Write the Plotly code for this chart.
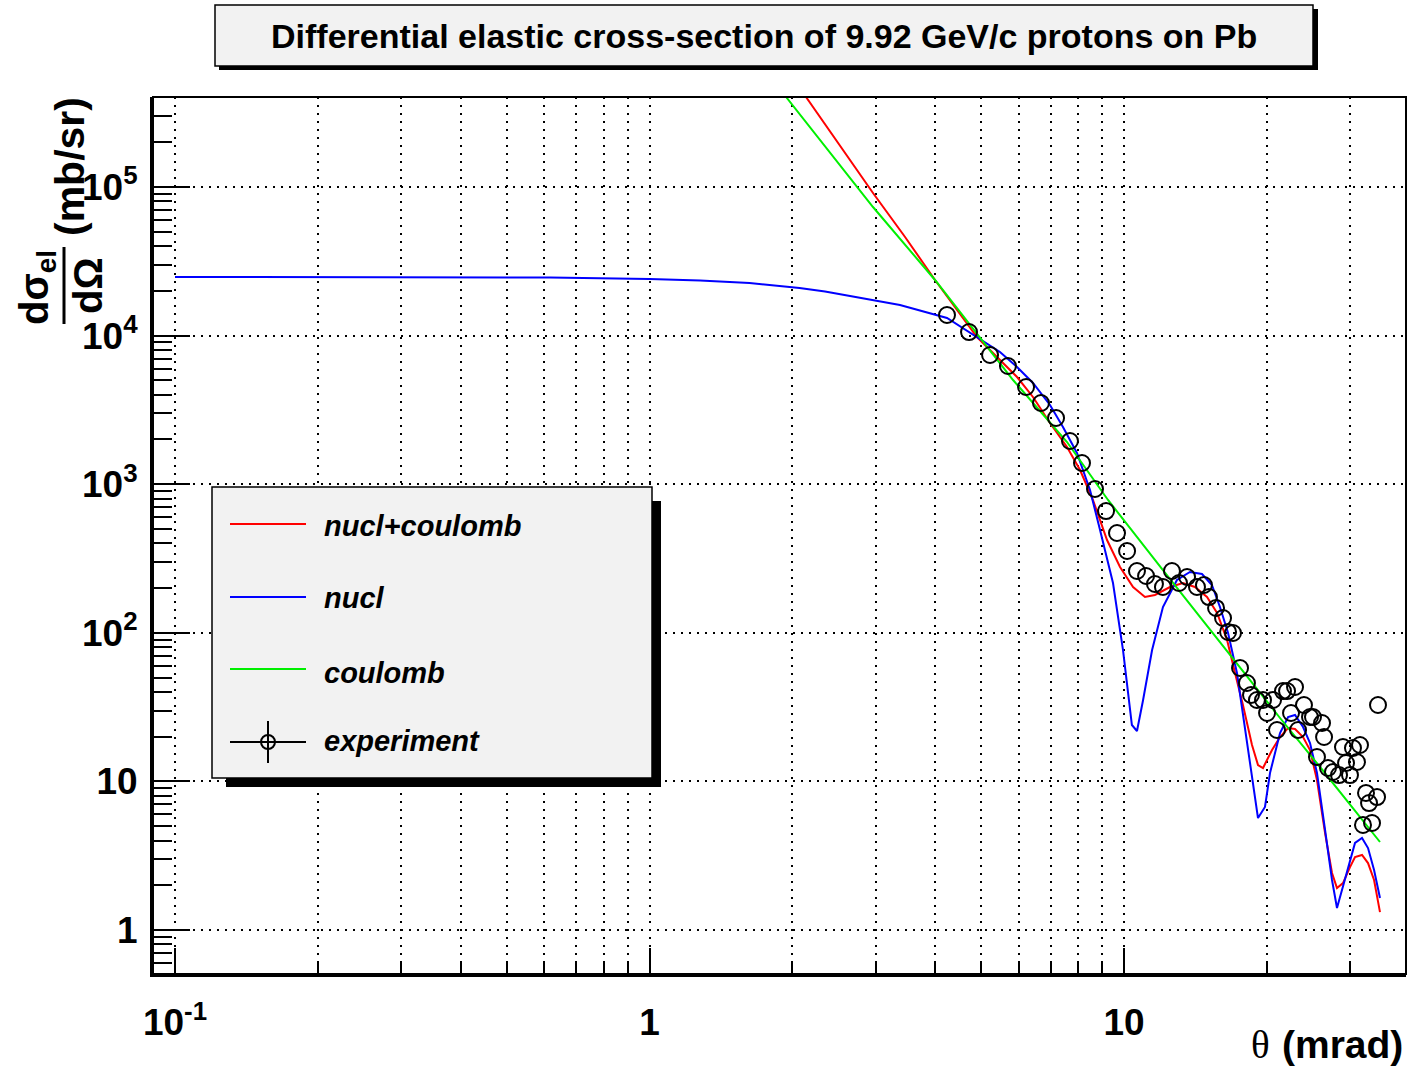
import plotly.graph_objects as go

# ---------------- data ----------------
theta_exp = [4.236, 4.714, 5.220, 5.694, 6.217, 6.684, 7.191, 7.694, 8.156, 8.687,
             9.165, 9.666, 10.15, 10.65, 11.13, 11.62, 12.08, 12.62, 13.06, 13.58,
             14.25, 14.74, 15.10, 15.63, 16.17, 16.57, 16.97, 17.56, 18.16, 18.52,
             19.06, 19.63, 20.02, 20.61, 21.01, 21.63, 22.06, 22.49, 22.93, 23.27,
             23.95, 24.66, 25.02, 25.51, 26.14, 26.40, 26.91, 27.57, 28.39, 28.94,
             29.37, 29.94, 30.38, 30.97, 31.43, 31.89, 32.36, 32.84, 33.32, 34.14, 34.30]
sigma_exp = [13760, 10570, 7404, 6243, 4510, 3519, 2789, 1953, 1389, 928.5,
             660, 469.5, 355.2, 260.6, 241.1, 213.0, 203.3, 260.6, 216.3, 237.4,
             203.3, 209.7, 174.1, 146.9, 125.8, 101.3, 99.7, 57.96, 45.94, 38.14,
             35.30, 35.30, 28.86, 35.30, 22.18, 40.57, 40.57, 28.86, 43.17, 22.18,
             32.67, 27.13, 27.13, 14.59, 24.72, 19.90, 12.31, 11.57, 11.04, 17.04,
             13.30, 11.04, 16.78, 13.51, 17.58, 5.09, 8.36, 7.15, 5.25, 7.85, 32.67]

theta_nucl = [0.1, 0.2979, 0.6170, 1.0, 1.278, 1.625, 1.839, 2.071, 2.344, 2.640,
              2.987, 3.372, 4.236, 4.899,
              5.478, 5.951, 6.429, 6.983, 7.436, 7.959, 8.479, 8.902, 9.165, 9.480,
              9.952, 10.39, 10.65, 10.97, 11.46, 12.08, 12.93, 13.77, 14.60, 15.32,
              15.93, 16.57, 17.30, 17.99, 18.61, 19.16, 19.82, 20.31, 21.32, 22.17,
              22.93, 23.84, 24.66, 25.51, 26.53, 27.44, 28.11, 28.94, 29.94, 30.68,
              31.74, 32.68, 33.65, 34.63]
sigma_nucl = [24800, 24800, 24600, 24040, 23490, 22600, 21740, 20910, 19810, 18480,
              17360, 16070, 13130, 9786,
              7755, 6148, 4797, 3412, 2426, 1622, 914, 491.8, 333.9, 216.3,
              76.6, 23.96, 21.84, 35.30, 76.6, 149.1, 226.6, 256.6, 248.7, 209.7,
              149.1, 99.7, 53.6, 23.23, 11.39, 5.67, 6.73, 11.39, 21.17, 27.13,
              27.98, 23.23, 18.13, 11.39, 4.71, 2.17, 1.406, 1.947, 2.958, 3.851,
              4.16, 3.56, 2.53, 1.64]

theta_nc = [2.137, 2.520, 2.958, 3.456, 3.997, 4.899, 5.478, 5.951, 6.429, 6.983,
            7.584, 8.079, 8.603, 9.031, 9.209, 9.808, 10.45, 11.07, 11.62, 12.50,
            13.31, 14.11, 14.96, 15.71, 16.49, 17.14, 17.81, 18.61, 19.16, 19.63,
            20.51, 21.32, 22.17, 22.93, 23.84, 24.66, 25.51, 26.53, 27.44, 28.11,
            28.94, 29.94, 30.68, 31.74, 32.68, 33.65, 34.63]
sigma_nc = [403400, 188700, 91100, 46080, 23670, 9786, 6851, 5264, 3863, 2581,
            1780, 1246, 783, 491.8, 421.2, 277.3, 203.3, 174.1, 179.7, 203.3,
            216.3, 203.3, 174.1, 135.9, 89.4, 53.6, 32.67, 17.58, 12.89, 12.31,
            16.27, 19.90, 22.87, 22.52, 19.90, 16.27, 10.22, 4.49, 2.42, 1.917,
            2.07, 2.65, 3.10, 3.20, 2.82, 2.17, 1.32]

theta_c = [1.940, 2.958, 3.997, 5.837, 7.584, 9.254, 12.08, 15.78, 21.32, 25.89, 34.63]
sigma_c = [403400, 73350, 23670, 5026, 1923, 783, 264.6, 89.4, 26.71, 12.50, 3.91]

x_tickvals = [0.1, 1, 10]
x_ticktext = ["10<sup>-1</sup>", "1", "10"]
y_tickvals = [1, 10, 100, 1e3, 1e4, 1e5]
y_ticktext = ["1", "10", "10<sup>2</sup>", "10<sup>3</sup>", "10<sup>4</sup>", "10<sup>5</sup>"]

title_text = "Differential elastic cross-section of 9.92 GeV/c protons on Pb"
legend_labels = ["nucl+coulomb", "nucl", "coulomb", "experiment"]

# ---------------- layout geometry ----------------
W, H = 1408, 1068
L, R, T, B = 153, 1406, 97, 974


def px(x):
    return (x - L) / (R - L)


def py(y):
    return (B - y) / (B - T)


FONT = "Liberation Sans"

fig = go.Figure()
fig.add_trace(go.Scatter(x=theta_nc, y=sigma_nc, mode="lines",
                         line=dict(color="#ff0000", width=2), name=legend_labels[0]))
fig.add_trace(go.Scatter(x=theta_nucl, y=sigma_nucl, mode="lines",
                         line=dict(color="#0000ff", width=2), name=legend_labels[1]))
fig.add_trace(go.Scatter(x=theta_c, y=sigma_c, mode="lines",
                         line=dict(color="#00f000", width=2), name=legend_labels[2]))
fig.add_trace(go.Scatter(x=theta_exp, y=sigma_exp, mode="markers",
                         marker=dict(symbol="circle-open", size=16, color="black",
                                     line=dict(width=2, color="black")),
                         name=legend_labels[3]))

minor_x = [m * d for d in (0.1, 1, 10) for m in range(2, 10) if m * d < 40]
minor_y = [m * d for d in (0.1, 1, 10, 100, 1e3, 1e4, 1e5) for m in range(2, 10)
           if 0.5 < m * d < 4.1e5]

grid_dash = "2px,6px"

fig.update_layout(
    width=W, height=H,
    margin=dict(l=L, r=W - R, t=T, b=H - B),
    paper_bgcolor="white", plot_bgcolor="white",
    showlegend=False,
    font=dict(family=FONT, color="black"),
    xaxis=dict(
        type="log", range=[-1.0464, 1.5943],
        tickmode="array", tickvals=x_tickvals, ticktext=x_ticktext,
        ticks="inside", ticklen=26, tickwidth=2, tickcolor="black",
        tickfont=dict(family=FONT, size=37, weight="bold", color="black"),
        ticklabelstandoff=14,
        showgrid=True, gridcolor="black", gridwidth=2, griddash=grid_dash,
        showline=True, linewidth=3, linecolor="black", zeroline=False,
        minor=dict(tickmode="array", tickvals=minor_x, ticks="inside", ticklen=13,
                   tickwidth=2, tickcolor="black", showgrid=True, gridcolor="black",
                   gridwidth=2, griddash=grid_dash),
    ),
    yaxis=dict(
        type="log", range=[-0.2961, 5.6057],
        tickmode="array", tickvals=y_tickvals, ticktext=y_ticktext,
        ticks="inside", ticklen=37, tickwidth=2, tickcolor="black",
        tickfont=dict(family=FONT, size=37, weight="bold", color="black"),
        ticklabelstandoff=5,
        showgrid=True, gridcolor="black", gridwidth=2, griddash=grid_dash,
        showline=True, linewidth=3, linecolor="black", zeroline=False,
        minor=dict(tickmode="array", tickvals=minor_y, ticks="inside", ticklen=19,
                   tickwidth=2, tickcolor="black", showgrid=False),
    ),
)

shapes = []
# plot frame
shapes.append(dict(type="rect", xref="paper", yref="paper", x0=0, y0=0, x1=1, y1=1,
                   line=dict(color="black", width=2), layer="above"))
# title box with shadow
shapes.append(dict(type="rect", xref="paper", yref="paper",
                   x0=px(219), y0=py(70), x1=px(1318), y1=py(9),
                   line=dict(width=0), fillcolor="black", layer="above"))
shapes.append(dict(type="rect", xref="paper", yref="paper",
                   x0=px(215), y0=py(66), x1=px(1313), y1=py(5),
                   line=dict(color="black", width=1.5), fillcolor="#f2f2f2", layer="above"))
# legend box with shadow
shapes.append(dict(type="rect", xref="paper", yref="paper",
                   x0=px(226), y0=py(787), x1=px(661), y1=py(501),
                   line=dict(width=0), fillcolor="black", layer="above"))
shapes.append(dict(type="rect", xref="paper", yref="paper",
                   x0=px(212), y0=py(778), x1=px(652), y1=py(487),
                   line=dict(color="black", width=1.5), fillcolor="#f2f2f2", layer="above"))
# legend samples
leg_y = [524, 597, 669, 742]
leg_col = ["#ff0000", "#0000ff", "#00f000", "black"]
for yy, cc in zip(leg_y, leg_col):
    shapes.append(dict(type="line", xref="paper", yref="paper",
                       x0=px(230), x1=px(306), y0=py(yy), y1=py(yy),
                       line=dict(color=cc, width=2), layer="above"))
shapes.append(dict(type="line", xref="paper", yref="paper",
                   x0=px(268), x1=px(268), y0=py(721), y1=py(763),
                   line=dict(color="black", width=2), layer="above"))
shapes.append(dict(type="circle", xref="paper", yref="paper",
                   x0=px(261), x1=px(275), y0=py(749), y1=py(735),
                   line=dict(color="black", width=2), layer="above"))
# fraction bar for y title
shapes.append(dict(type="line", xref="paper", yref="paper",
                   x0=px(64), x1=px(64), y0=py(247), y1=py(324),
                   line=dict(color="black", width=3), layer="above"))
fig.update_layout(shapes=shapes)

ann = []
ann.append(dict(text="<b>" + title_text + "</b>", x=px(764), y=py(36),
                font=dict(family=FONT, size=34, color="black")))
leg_text_y = [526, 598, 673, 741]
for lab, yy in zip(legend_labels, leg_text_y):
    ann.append(dict(text="<b><i>" + lab + "</i></b>", x=px(322), y=py(yy), xanchor="left",
                    font=dict(family=FONT, size=29, color="black")))
# x axis title
ann.append(dict(text="<b>(mrad)</b>", x=px(1405), y=py(1044), xanchor="right",
                font=dict(family=FONT, size=39, color="black")))
ann.append(dict(text="θ", x=px(1260), y=py(1044),
                font=dict(family="Liberation Serif", size=39, color="black")))
# y axis title
ann.append(dict(text="<b>(mb/sr)</b>", x=px(70), y=py(167), textangle=-90,
                font=dict(family=FONT, size=41, color="black")))
ann.append(dict(text="<b>dσ<sub>el</sub></b>", x=px(37), y=py(288), textangle=-90,
                font=dict(family=FONT, size=40, color="black")))
ann.append(dict(text="<b>dΩ</b>", x=px(88), y=py(286), textangle=-90,
                font=dict(family=FONT, size=40, color="black")))
for a in ann:
    a.update(xref="paper", yref="paper", showarrow=False)
    a.setdefault("xanchor", "center")
    a.setdefault("yanchor", "middle")
fig.update_layout(annotations=ann)

fig.write_html("out.html",
               config={"displayModeBar": False},
               post_script="document.body.style.margin='0px';"
                           "document.body.style.overflow='hidden';")
